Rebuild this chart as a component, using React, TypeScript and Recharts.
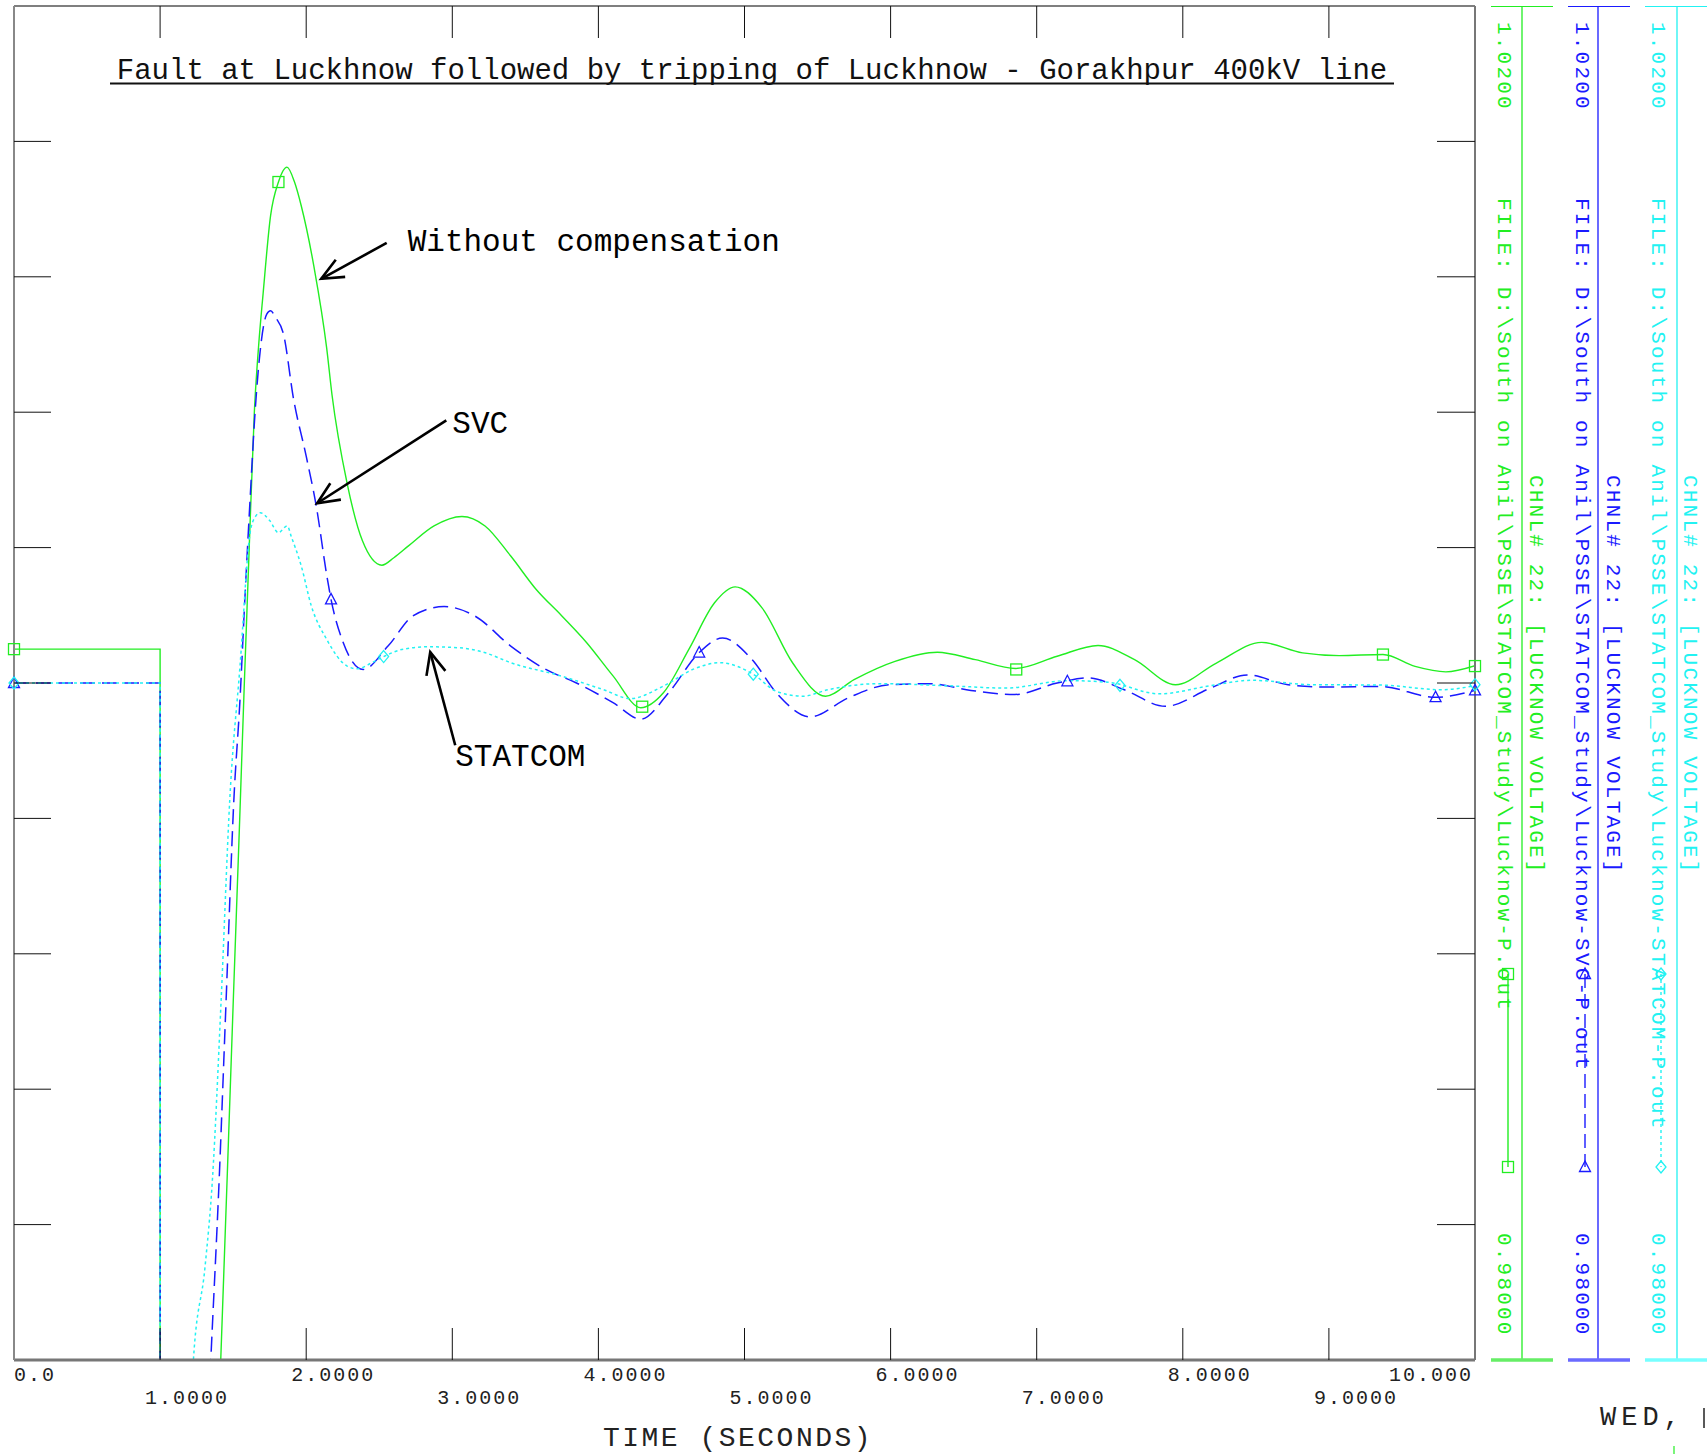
import {
  ComposedChart,
  Line,
  XAxis,
  YAxis,
  ReferenceLine,
  ReferenceDot,
} from "recharts";

// time axis (seconds) and voltage axis (p.u.)
const timeTicks = [0, 1, 2, 3, 4, 5, 6, 7, 8, 9, 10];
const timeLabels = ["0.0", "1.0000", "2.0000", "3.0000", "4.0000", "5.0000", "6.0000", "7.0000", "8.0000", "9.0000", "10.000"];
const voltTicks = [0.984, 0.988, 0.992, 0.996, 1.0, 1.004, 1.008, 1.012, 1.016];

// Lucknow voltage, no compensation
const noCompTime = [0, 1.0, 1.001, 1.3, 1.415, 1.46, 1.5, 1.545, 1.575, 1.61, 1.645, 1.675, 1.705, 1.756, 1.81, 1.868, 1.92, 1.966, 2.053, 2.14, 2.177, 2.28, 2.385, 2.518, 2.6, 2.7, 2.875, 3.066, 3.224, 3.4, 3.573, 3.75, 3.92, 4.1, 4.29, 4.445, 4.62, 4.795, 4.936, 5.12, 5.33, 5.555, 5.75, 6.03, 6.32, 6.58, 6.855, 7.14, 7.42, 7.67, 7.95, 8.23, 8.54, 8.82, 9.07, 9.37, 9.59, 9.8, 10.0];
const noCompVolt = [1.001, 1.001, 0.9, 0.966, 0.98, 0.9855, 0.9905, 0.996, 0.9998, 1.004, 1.008, 1.01, 1.0115, 1.0138, 1.0148, 1.01524, 1.0148, 1.0141, 1.0123, 1.0099, 1.0085, 1.0059, 1.0042, 1.00348, 1.0037, 1.00405, 1.00464, 1.00492, 1.00464, 1.00375, 1.00277, 1.00198, 1.00119, 1.00021, 0.99927, 0.99971, 1.001, 1.00237, 1.00284, 1.00222, 1.00059, 0.99961, 1.0001, 1.00064, 1.00091, 1.00069, 1.00043, 1.00079, 1.00111, 1.00069, 0.99995, 1.00059, 1.0012, 1.00089, 1.00081, 1.00084, 1.00049, 1.00033, 1.00051];

// Lucknow voltage with SVC
const svcTime = [0, 1.0, 1.001, 1.2, 1.347, 1.404, 1.452, 1.505, 1.547, 1.58, 1.616, 1.65, 1.69, 1.73, 1.756, 1.79, 1.845, 1.913, 2.0, 2.07, 2.14, 2.17, 2.245, 2.39, 2.56, 2.73, 2.944, 3.154, 3.4, 3.64, 3.85, 4.1, 4.29, 4.48, 4.69, 4.85, 5.05, 5.22, 5.45, 5.71, 5.99, 6.27, 6.55, 6.85, 7.14, 7.355, 7.6, 7.88, 8.19, 8.44, 8.72, 9.0, 9.35, 9.73, 10.0];
const svcVolt = [1.0, 1.0, 0.9, 0.965, 0.98, 0.9853, 0.99065, 0.99656, 0.99952, 1.00247, 1.00543, 1.008, 1.01, 1.0109, 1.011, 1.0108, 1.0103, 1.0084, 1.0067, 1.0052, 1.0032, 1.00247, 1.00129, 1.0004, 1.00109, 1.00198, 1.00226, 1.00198, 1.00109, 1.0004, 1.0, 0.99942, 0.99893, 0.99971, 1.0009, 1.00133, 1.0007, 0.9997, 0.999, 0.99956, 0.99995, 0.99998, 0.99978, 0.99966, 1.0, 1.00015, 0.9998, 0.99931, 0.99985, 1.00024, 0.99995, 0.99988, 0.9999, 0.99958, 0.99978];

// Lucknow voltage with STATCOM
const statcomTime = [0, 1.0, 1.001, 1.12, 1.228, 1.308, 1.358, 1.418, 1.477, 1.547, 1.616, 1.65, 1.685, 1.75, 1.81, 1.87, 1.9, 1.966, 2.035, 2.14, 2.28, 2.35, 2.45, 2.53, 2.665, 2.84, 3.05, 3.22, 3.4, 3.75, 4.03, 4.22, 4.445, 4.657, 4.83, 5.06, 5.22, 5.4, 5.57, 5.92, 6.38, 6.79, 7.21, 7.49, 7.84, 8.19, 8.47, 8.89, 9.35, 9.77, 10.0];
const statcomVolt = [1.0, 1.0, 0.9, 0.968, 0.98, 0.98277, 0.98532, 0.99065, 0.99656, 1.0005, 1.00444, 1.0049, 1.00503, 1.0048, 1.00444, 1.00464, 1.0043, 1.00346, 1.00228, 1.00129, 1.0005, 1.00042, 1.0006, 1.00078, 1.001, 1.00107, 1.00104, 1.0009, 1.0006, 1.0002, 0.99981, 0.99954, 0.99991, 1.00042, 1.0006, 1.00026, 0.99975, 0.99961, 0.9998, 0.99998, 0.99992, 0.99985, 1.00007, 1.00002, 0.99968, 0.99992, 1.00008, 0.99995, 0.99994, 0.9998, 0.99992];

// plot symbols
const noCompMarkTime = [0, 1.81, 4.3, 6.86, 9.37, 10.0];
const noCompMarkVolt = [1.001, 1.0148, 0.9993, 1.0004, 1.00084, 1.0005];
const svcMarkTime = [0, 2.17, 4.69, 7.21, 9.73, 10.0];
const svcMarkVolt = [1.0, 1.00247, 1.0009, 1.00005, 0.99958, 0.99978];
const statcomMarkTime = [0, 2.53, 5.06, 7.57, 10.0];
const statcomMarkVolt = [1.0, 1.00078, 1.00026, 0.99993, 0.99995];

// annotations
const noteLabels = ["Without compensation", "SVC", "STATCOM"];
const noteTail = [[2.551, 1.013], [2.959, 1.00776], [3.02, 0.99816]];
const noteHead = [[2.103, 1.01194], [2.075, 1.00531], [2.849, 1.00091]];
const noteOffset = [[21, 0], [6, 4], [0, 12]];

const GREEN = "#22ee22";
const BLUE = "#1a1aff";
const CYAN = "#22f2f2";

const zip = (ts: number[], vs: number[]) => ts.map((t, i) => ({ t, v: vs[i] }));

const noComp = zip(noCompTime, noCompVolt);
const svc = zip(svcTime, svcVolt);
const statcom = zip(statcomTime, statcomVolt);

const mono = "'Liberation Mono', 'DejaVu Sans Mono', monospace";

const square = (color: string) => (p: any) => (
  <rect x={p.cx - 5.5} y={p.cy - 5.5} width={11} height={11} fill="none" stroke={color} strokeWidth={1.3} />
);
const triangle = (color: string) => (p: any) => (
  <polygon points={`${p.cx},${p.cy - 6} ${p.cx - 5.5},${p.cy + 4.5} ${p.cx + 5.5},${p.cy + 4.5}`} fill="none" stroke={color} strokeWidth={1.3} />
);
const diamond = (color: string) => (p: any) => (
  <polygon points={`${p.cx},${p.cy - 6} ${p.cx + 5},${p.cy} ${p.cx},${p.cy + 6} ${p.cx - 5},${p.cy}`} fill="none" stroke={color} strokeWidth={1.3} />
);

const arrow = (label: string, dx: number, dy: number) => (p: any) => {
  const { x1, y1, x2, y2 } = p;
  const ang = Math.atan2(y2 - y1, x2 - x1);
  const L = 24;
  const a = 0.42;
  const w1 = `${x2 - L * Math.cos(ang - a)},${y2 - L * Math.sin(ang - a)}`;
  const w2 = `${x2 - L * Math.cos(ang + a)},${y2 - L * Math.sin(ang + a)}`;
  return (
    <g>
      <line x1={x1} y1={y1} x2={x2} y2={y2} stroke="#000" strokeWidth={2.6} />
      <polyline points={`${w1} ${x2},${y2} ${w2}`} fill="none" stroke="#000" strokeWidth={2.6} />
      <text x={x1 + dx} y={y1 + dy} dominantBaseline="central" fontFamily={mono} fontSize={31} fill="#000">
        {label}
      </text>
    </g>
  );
};

const BottomTick = (p: any) => {
  const { x, y, payload } = p;
  const i = timeTicks.indexOf(payload.value);
  const inner = i > 0 && i < timeTicks.length - 1;
  let tx = x - 15;
  let anchor = "start";
  if (i === 0) tx = x;
  if (i === timeTicks.length - 1) {
    tx = x - 2;
    anchor = "end";
  }
  return (
    <g>
      {inner && <line x1={x} y1={y} x2={x} y2={y - 32} stroke="#111" strokeWidth={1} />}
      <text x={tx} y={y + (i % 2 === 0 ? 15 : 38)} textAnchor={anchor} dominantBaseline="central" fontFamily={mono} fontSize={20} letterSpacing={2} fill="#222">
        {timeLabels[i]}
      </text>
    </g>
  );
};

const TopTick = (p: any) => {
  const { x, y, payload } = p;
  if (payload.value <= 0 || payload.value >= 10) return <g />;
  return <line x1={x} y1={y} x2={x} y2={y + 32} stroke="#111" strokeWidth={1} />;
};

const LeftTick = (p: any) => <line x1={p.x} y1={p.y} x2={p.x + 37} y2={p.y} stroke="#111" strokeWidth={1} />;
const RightTick = (p: any) => <line x1={p.x - 38} y1={p.y} x2={p.x} y2={p.y} stroke="#111" strokeWidth={1} />;

const strips = [
  { color: GREEN, light: "#66ee66", x0: 1491, xv: 1522, c1: 1503, c2: 1535, sx: 1508, file: "FILE: D:\\South on Anil\\PSSE\\STATCOM_Study\\Lucknow-P.out", dash: undefined, m: "sq" },
  { color: BLUE, light: "#6a6aff", x0: 1568, xv: 1598, c1: 1581, c2: 1612, sx: 1585, file: "FILE: D:\\South on Anil\\PSSE\\STATCOM_Study\\Lucknow-SVC-P.out", dash: "14 6", m: "tri" },
  { color: CYAN, light: "#77ffff", x0: 1645, xv: 1677, c1: 1657, c2: 1689, sx: 1661, file: "FILE: D:\\South on Anil\\PSSE\\STATCOM_Study\\Lucknow-STATCOM-P.out", dash: "3 3", m: "dia" },
];

const VText = ({ x, y, color, children }: any) => (
  <text transform={`translate(${x},${y}) rotate(90)`} dominantBaseline="central" fontFamily={mono} fontSize={21} letterSpacing={2.2} fill={color}>
    {children}
  </text>
);

const Strip = ({ s }: any) => {
  const mk = (cy: number) =>
    s.m === "sq" ? square(s.color)({ cx: s.sx, cy }) : s.m === "tri" ? triangle(s.color)({ cx: s.sx, cy }) : diamond(s.color)({ cx: s.sx, cy });
  return (
    <g>
      <line x1={s.x0} y1={6.5} x2={s.x0 + 62} y2={6.5} stroke={s.color} strokeWidth={1.2} />
      <line x1={s.xv} y1={6.5} x2={s.xv} y2={1360} stroke={s.color} strokeWidth={1.3} />
      <line x1={s.x0} y1={1360} x2={s.x0 + 62} y2={1360} stroke={s.light} strokeWidth={3.5} />
      <VText x={s.c1} y={22} color={s.color}>1.0200</VText>
      <VText x={s.c1} y={198} color={s.color}>{s.file}</VText>
      <VText x={s.c2} y={475} color={s.color}>CHNL# 22: [LUCKNOW VOLTAGE]</VText>
      <VText x={s.c1} y={1233} color={s.color}>0.98000</VText>
      <line x1={s.sx} y1={974} x2={s.sx} y2={1167} stroke={s.color} strokeWidth={1.4} strokeDasharray={s.dash} />
      {mk(974)}
      {mk(1167)}
    </g>
  );
};

export default function App() {
  return (
    <div style={{ position: "absolute", left: 0, top: 0, width: 1707, height: 1454, overflow: "hidden", background: "#fff" }}>
      <ComposedChart width={1707} height={1454} margin={{ top: 5, right: 231, bottom: 93, left: 13 }}>
        <XAxis
          xAxisId="b"
          type="number"
          dataKey="t"
          domain={[0, 10]}
          ticks={timeTicks}
          interval={0}
          allowDataOverflow
          height={1}
          tickSize={0}
          tickMargin={0}
          tickLine={false}
          tick={<BottomTick />}
          axisLine={{ stroke: "#777", strokeWidth: 3 }}
        />
        <XAxis
          xAxisId="top"
          orientation="top"
          type="number"
          dataKey="t"
          domain={[0, 10]}
          ticks={timeTicks}
          interval={0}
          allowDataOverflow
          height={1}
          tickSize={0}
          tickMargin={0}
          tickLine={false}
          tick={<TopTick />}
          axisLine={{ stroke: "#555", strokeWidth: 1.5 }}
        />
        <YAxis
          yAxisId="l"
          dataKey="v"
          type="number"
          domain={[0.98, 1.02]}
          ticks={voltTicks}
          interval={0}
          allowDataOverflow
          width={1}
          tickSize={0}
          tickMargin={0}
          tickLine={false}
          tick={<LeftTick />}
          axisLine={{ stroke: "#888", strokeWidth: 2 }}
        />
        <YAxis
          yAxisId="r"
          orientation="right"
          type="number"
          domain={[0.98, 1.02]}
          ticks={voltTicks}
          interval={0}
          allowDataOverflow
          width={1}
          tickSize={0}
          tickMargin={0}
          tickLine={false}
          tick={<RightTick />}
          axisLine={{ stroke: "#777", strokeWidth: 2 }}
        />
        <Line xAxisId="b" yAxisId="l" data={noComp} dataKey="v" type="monotone" stroke={GREEN} strokeWidth={1.4} dot={false} isAnimationActive={false} />
        <Line xAxisId="b" yAxisId="l" data={svc} dataKey="v" type="monotone" stroke={BLUE} strokeWidth={1.5} strokeDasharray="15 7" dot={false} isAnimationActive={false} />
        <Line xAxisId="b" yAxisId="l" data={statcom} dataKey="v" type="monotone" stroke={CYAN} strokeWidth={1.5} strokeDasharray="3 3" dot={false} isAnimationActive={false} />
        {noCompMarkTime.map((t, i) => (
          <ReferenceDot key={"g" + i} xAxisId="b" yAxisId="l" x={t} y={noCompMarkVolt[i]} ifOverflow="visible" shape={square(GREEN)} />
        ))}
        {svcMarkTime.map((t, i) => (
          <ReferenceDot key={"b" + i} xAxisId="b" yAxisId="l" x={t} y={svcMarkVolt[i]} ifOverflow="visible" shape={triangle(BLUE)} />
        ))}
        {statcomMarkTime.map((t, i) => (
          <ReferenceDot key={"c" + i} xAxisId="b" yAxisId="l" x={t} y={statcomMarkVolt[i]} ifOverflow="visible" shape={diamond(CYAN)} />
        ))}
        {noteLabels.map((label, i) => (
          <ReferenceLine
            key={label}
            xAxisId="b"
            yAxisId="l"
            ifOverflow="visible"
            segment={[
              { x: noteTail[i][0], y: noteTail[i][1] },
              { x: noteHead[i][0], y: noteHead[i][1] },
            ]}
            shape={arrow(label, noteOffset[i][0], noteOffset[i][1])}
          />
        ))}
      </ComposedChart>
      <svg width={1707} height={1454} style={{ position: "absolute", left: 0, top: 0, pointerEvents: "none" }}>
        <text x={752} y={79} textAnchor="middle" fontFamily={mono} fontSize={29} fill="#111">
          Fault at Luckhnow followed by tripping of Luckhnow - Gorakhpur 400kV line
        </text>
        <line x1={110} y1={83.5} x2={1394} y2={83.5} stroke="#111" strokeWidth={2} />
        <text x={738} y={1438} textAnchor="middle" dominantBaseline="central" fontFamily={mono} fontSize={28} letterSpacing={2.5} fill="#222">
          TIME (SECONDS)
        </text>
        <text x={1600} y={1418} dominantBaseline="central" fontFamily={mono} fontSize={27} letterSpacing={5} fill="#222">
          WED,
        </text>
        <line x1={1704} y1={1408} x2={1704} y2={1428} stroke="#222" strokeWidth={1.5} />
        <line x1={1674} y1={1446} x2={1674} y2={1454} stroke={GREEN} strokeWidth={1.2} />
        {strips.map((s) => (
          <Strip key={s.file} s={s} />
        ))}
      </svg>
    </div>
  );
}
